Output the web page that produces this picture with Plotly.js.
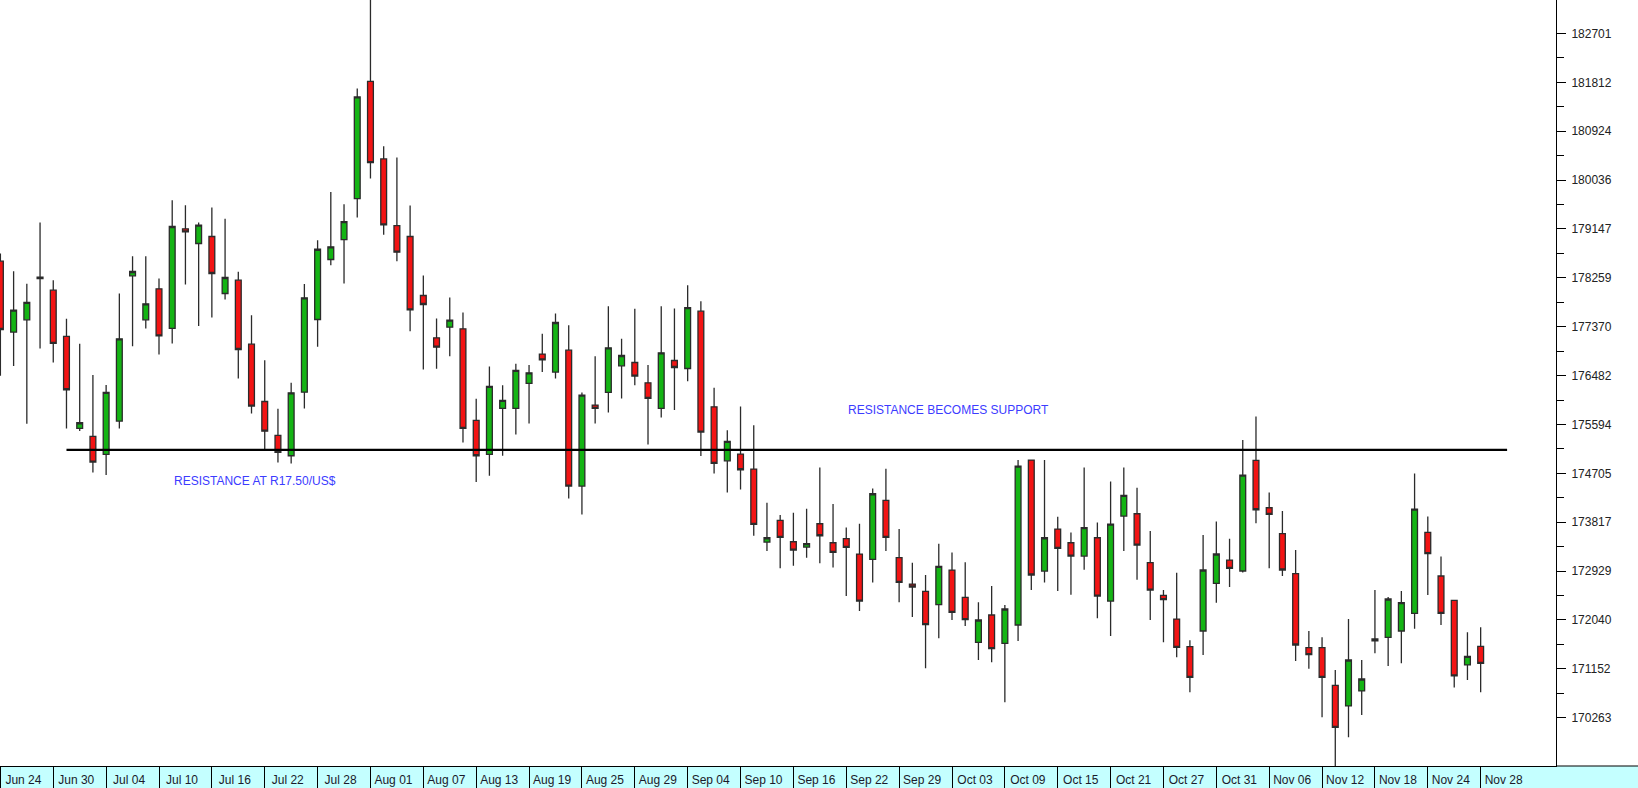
<!DOCTYPE html>
<html><head><meta charset="utf-8">
<script src="https://cdn.plot.ly/plotly-3.0.1.min.js"></script>
<style>html,body{margin:0;padding:0;background:#fff;}#chart{width:1638px;height:788px;}</style>
</head><body><div id="chart"></div>
<script>
// Daily candles (Jun 24 .. Nov 28), values as plotted on the chart scale
const openP  = [178562,177272,177496,178271,178035,177193,175521,175376,175049,175655,
                178295,177496,178059,177339,179150,178883,179010,177974,178216,177053,
                176011,175394,175024,176181,177501,178592,178955,179700,181832,180421,
                179209,179010,177938,177168,177362,177332,175666,175048,175884,175884,
                176339,176872,176545,176944,174473,175945,176175,176660,176720,176351,
                175884,176756,176611,177653,175914,174933,175054,174782,173455,173849,
                173461,173364,173788,173443,173516,173237,173140,174212,173171,172692,
                172559,172317,172946,172450,171632,172129,171614,171947,174945,172928,
                173692,173443,173201,173534,172383,173928,173970,173080,172486,172056,
                171554,171838,172705,173128,172929,174940,174079,173607,172880,171535,
                171535,170851,170476,170748,171657,171723,171838,172159,173631,172838,
                172396,171221,171560];
const highP  = [178701,178380,178150,179265,178217,177514,177060,176491,176309,177974,
                178653,178653,178247,179670,179580,179265,179537,179331,178368,177580,
                176762,175878,176351,178149,178943,179821,179597,181699,183600,180651,
                180445,179573,178301,177520,177901,177629,176060,176648,176308,176696,
                176672,177241,177611,177399,176175,176835,177744,177150,177695,176672,
                177744,177701,178125,177835,176260,175490,175921,175581,174170,173946,
                173988,174061,174812,174146,173722,173788,174430,174788,173692,173080,
                172856,173425,173267,173086,172359,172656,172310,174945,174945,174945,
                173916,173631,174812,173813,174558,174812,174443,173655,172583,172898,
                171669,173583,173831,173516,175309,175739,174358,174019,173310,171838,
                171723,171130,172056,171311,172583,172456,172565,174703,173922,173195,
                172396,171814,171905];
const lowP   = [176478,176654,175606,176975,176721,175521,175473,174722,174673,175521,
                177017,177339,176866,177066,178138,177381,177538,177865,176429,175793,
                175127,174903,174885,175884,177005,178489,178156,179355,180064,179040,
                178561,177289,176593,176605,176835,175267,174546,174661,175024,175412,
                175612,176545,176429,174249,173958,175612,175812,176066,176308,175230,
                175721,175854,176381,175018,174703,174358,174412,173570,173292,172977,
                173025,173171,173068,172995,172474,172201,172722,173292,172359,172092,
                171160,171705,172038,171929,171311,171269,170542,171656,172583,172722,
                172565,172499,172953,172069,171747,173292,172771,172038,171632,171360,
                170724,171402,172353,172638,172900,173795,172977,172838,171293,171154,
                170270,169200,169906,170312,171433,171202,171251,171881,172492,171947,
                170809,170948,170724];
const closeP = [177320,177672,177811,178247,177066,176224,175624,174910,176176,177151,
                178374,177787,177205,179192,179095,179216,178338,178265,176956,175927,
                175472,175085,176169,177895,178779,178822,179282,181547,180354,179222,
                178725,177677,177774,176999,177489,175521,175024,176284,176030,176575,
                176532,176769,177447,174473,176127,175884,176987,176847,176472,176066,
                176896,176629,177719,175454,174885,175285,174770,173776,173534,173540,
                173310,173425,173570,173268,173358,172383,174334,173540,172722,172638,
                171953,173013,172177,172044,172038,171517,172238,174836,172856,173534,
                173340,173201,173716,172474,173783,174304,173401,172583,172408,171542,
                170996,172947,173238,172977,174673,174043,173958,172947,171584,171408,
                170996,170088,171311,170966,171693,172420,172353,174055,173244,172159,
                171021,171378,171251];

// Date labels, one for every four candles
const dateLabels = ['Jun 24','Jun 30','Jul 04','Jul 10','Jul 16','Jul 22','Jul 28','Aug 01',
                    'Aug 07','Aug 13','Aug 19','Aug 25','Aug 29','Sep 04','Sep 10','Sep 16',
                    'Sep 22','Sep 29','Oct 03','Oct 09','Oct 15','Oct 21','Oct 27','Oct 31',
                    'Nov 06','Nov 12','Nov 18','Nov 24','Nov 28'];
const candlesPerLabel = 4;

// Price axis labels
const yTickValues = [170263,171152,172040,172929,173817,174705,175594,176482,
                     177370,178259,179147,180036,180924,181812,182701];

// Resistance / support line
const resistanceLevel = 175130;
const resistanceStartIdx = 5;
const resistanceEndIdx = 114;

const idx = openP.map((_, i) => i);
const xTickVals = dateLabels.map((_, k) => k * candlesPerLabel);
const yMinor = yTickValues.slice(1).map((v, k) => (v + yTickValues[k]) / 2);

const FONT = 'Arial, "Liberation Sans", sans-serif';

const candles = {
  type: 'candlestick',
  x: idx, open: openP, high: highP, low: lowP, close: closeP,
  increasing: {line: {color: '#2b2b2b', width: 1.3}, fillcolor: '#14b414'},
  decreasing: {line: {color: '#2b2b2b', width: 1.3}, fillcolor: '#f21414'},
  whiskerwidth: 0,
  hoverinfo: 'skip',
  showlegend: false
};

const resistance = {
  type: 'scatter', mode: 'lines',
  x: [resistanceStartIdx, resistanceEndIdx],
  y: [resistanceLevel, resistanceLevel],
  line: {color: '#000000', width: 2.2},
  hoverinfo: 'skip', showlegend: false
};

const layout = {
  width: 1638, height: 788,
  margin: {l: 0, r: 82, t: 0, b: 22, pad: 0},
  paper_bgcolor: '#ffffff', plot_bgcolor: '#ffffff',
  showlegend: false,
  boxgap: 0.37,
  font: {family: FONT, size: 12, color: '#222'},
  xaxis: {
    range: [-0.03, 117.7],
    showgrid: false, zeroline: false,
    showline: true, linecolor: '#000', linewidth: 1,
    ticks: 'outside', ticklen: 22, tickwidth: 1, tickcolor: '#000',
    tickmode: 'array', tickvals: xTickVals, ticktext: dateLabels,
    tickfont: {family: FONT, size: 12, color: '#1a1a2a'},
    ticklabelstandoff: -19, ticklabelshift: 23,
    tickangle: 0,
    rangeslider: {visible: false},
    fixedrange: true
  },
  yaxis: {
    side: 'right',
    range: [169384, 183310],
    showgrid: false, zeroline: false,
    showline: true, linecolor: '#000', linewidth: 1,
    ticks: 'outside', ticklen: 9, tickwidth: 1, tickcolor: '#000',
    tickmode: 'array', tickvals: yTickValues, ticktext: yTickValues.map(String),
    tickfont: {family: FONT, size: 12, color: '#222'},
    ticklabelstandoff: 3,
    minor: {ticks: 'outside', tickmode: 'array', tickvals: yMinor, ticklen: 7, tickwidth: 1, tickcolor: '#000'},
    fixedrange: true
  },
  shapes: [
    {type: 'rect', xref: 'paper', yref: 'paper', x0: 0, x1: 1638 / 1556, y0: -22 / 766, y1: 0,
     fillcolor: '#c4ffff', line: {width: 0}, layer: 'below'},
    {type: 'line', xref: 'paper', yref: 'paper', x0: 1, x1: 1638 / 1556, y0: 0, y1: 0,
     line: {color: '#000', width: 1}}
  ],
  annotations: [
    {text: 'RESISTANCE AT R17.50/US$', xref: 'x', yref: 'y', x: 13.0, y: 174564,
     xanchor: 'left', yanchor: 'middle', showarrow: false,
     font: {family: FONT, size: 12, color: '#3c3cff'}},
    {text: 'RESISTANCE BECOMES SUPPORT', xref: 'x', yref: 'y', x: 63.95, y: 175863,
     xanchor: 'left', yanchor: 'middle', showarrow: false,
     font: {family: FONT, size: 12, color: '#3c3cff'}}
  ]
};

Plotly.newPlot('chart', [candles, resistance], layout, {displayModeBar: false, staticPlot: true});
</script>
</body></html>
